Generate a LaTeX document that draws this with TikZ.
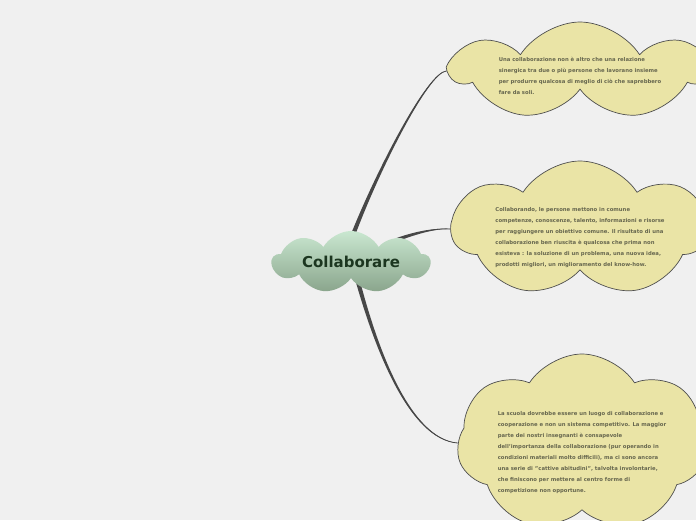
\documentclass[tikz,border=0pt]{standalone}
\usepackage{fontspec}
\setmainfont{DejaVu Sans}
\usetikzlibrary{shapes.symbols,calc}
\definecolor{pagebg}{HTML}{F0F0F0}
\definecolor{leaffill}{HTML}{EAE4A6}
\definecolor{leafdraw}{HTML}{4E4E4E}
\definecolor{leaftext}{HTML}{66664E}
\definecolor{roottop}{HTML}{C9E7D0}
\definecolor{rootbot}{HTML}{8AA58C}
\definecolor{roottext}{HTML}{1C3620}
\definecolor{branchcol}{HTML}{474747}
\pgfdeclarelayer{bg}
\pgfdeclarelayer{edges}
\pgfsetlayers{bg,edges,main}
% text of a leaf, lowered a little inside its cloud
\newcommand{\leaftext}[2]{\raisebox{#1}[0pt][0pt]{\begin{tabular}{@{}l@{}}#2\end{tabular}}}
\tikzset{
  every picture/.style={x=1pt,y=-1pt},
  leaf/.style={cloud,cloud puffs=7,cloud puff arc=115,cloud ignores aspect,
    fill=leaffill,draw=leafdraw,line width=0.7pt,text=leaftext,
    font=\fontsize{5.3}{11}\selectfont\bfseries,inner sep=0pt},
  rootnode/.style={cloud,cloud puffs=9,cloud puff arc=120,cloud ignores aspect,
    top color=roottop,bottom color=rootbot,draw=none,text=roottext,
    font=\fontsize{15}{18}\selectfont\bfseries,
    minimum width=158,minimum height=62},
  branch/.style={draw=branchcol,line width=0.8pt,line cap=round},
  wedge/.style={fill=branchcol}
}
\begin{document}
\begin{tikzpicture}
  \begin{pgfonlayer}{bg}
    \fill[pagebg] (0,0) rectangle (696,520);
  \end{pgfonlayer}
  \useasboundingbox (0,0) rectangle (696,520);
  \clip (0,0) rectangle (696,520);
  \node[rootnode] (root) at (351,262) {Collaborare};
  \node[leaf,minimum width=256,minimum height=98] (c1) at (580,71) {\leaftext{-6pt}{%
    Una collaborazione non è altro che una relazione\\
    sinergica tra due o più persone che lavorano insieme\\
    per produrre qualcosa di meglio di ciò che saprebbero\\
    fare da soli.}};
  \node[leaf,minimum width=256,minimum height=136] (c2) at (580,229) {\leaftext{-9pt}{%
    Collaborando, le persone mettono in comune\\
    competenze, conoscenze, talento, informazioni e risorse\\
    per raggiungere un obiettivo comune. Il risultato di una\\
    collaborazione ben riuscita è qualcosa che prima non\\
    esisteva : la soluzione di un problema, una nuova idea,\\
    prodotti migliori, un miglioramento del know-how.}};
  \node[leaf,minimum width=250,minimum height=178] (c3) at (582,443) {\leaftext{-10pt}{%
    La scuola dovrebbe essere un luogo di collaborazione e\\
    cooperazione e non un sistema competitivo. La maggior\\
    parte dei nostri insegnanti è consapevole\\
    dell'importanza della collaborazione (pur operando in\\
    condizioni materiali molto difficili), ma ci sono ancora\\
    una serie di "cattive abitudini", talvolta involontarie,\\
    che finiscono per mettere al centro forme di\\
    competizione non opportune.}};
  \coordinate (r1) at ([xshift=2pt,yshift=-4pt]root.north);
  \coordinate (r2) at ([xshift=45pt,yshift=22pt]root.center);
  \coordinate (r3) at ([xshift=5pt,yshift=4pt]root.south);
  % branches, thicker near the root
  \begin{pgfonlayer}{edges}
    \fill[wedge] ($(r1)+(-2.3,0)$) .. controls (376.6,170) and (427.6,71) .. (c1.west)
      .. controls (428.4,73) and (379.4,170) .. ($(r1)+(2.3,0)$) -- cycle;
    \draw[branch] (r1) .. controls (378,170) and (428,72) .. (c1.west);
    \fill[wedge] ($(r2)+(0,-1.8)$) .. controls (415,231.4) and (435,227.6) .. (c2.west)
      .. controls (435,228.4) and (415,234.6) .. ($(r2)+(0,1.8)$) -- cycle;
    \draw[branch] (r2) .. controls (415,233) and (435,228) .. (c2.west);
    \fill[wedge] ($(r3)+(-2.3,0)$) .. controls (374.6,350) and (409.6,440) .. (c3.west)
      .. controls (410.4,438) and (377.4,350) .. ($(r3)+(2.3,0)$) -- cycle;
    \draw[branch] (r3) .. controls (376,350) and (410,439) .. (c3.west);
  \end{pgfonlayer}
\end{tikzpicture}
\end{document}
